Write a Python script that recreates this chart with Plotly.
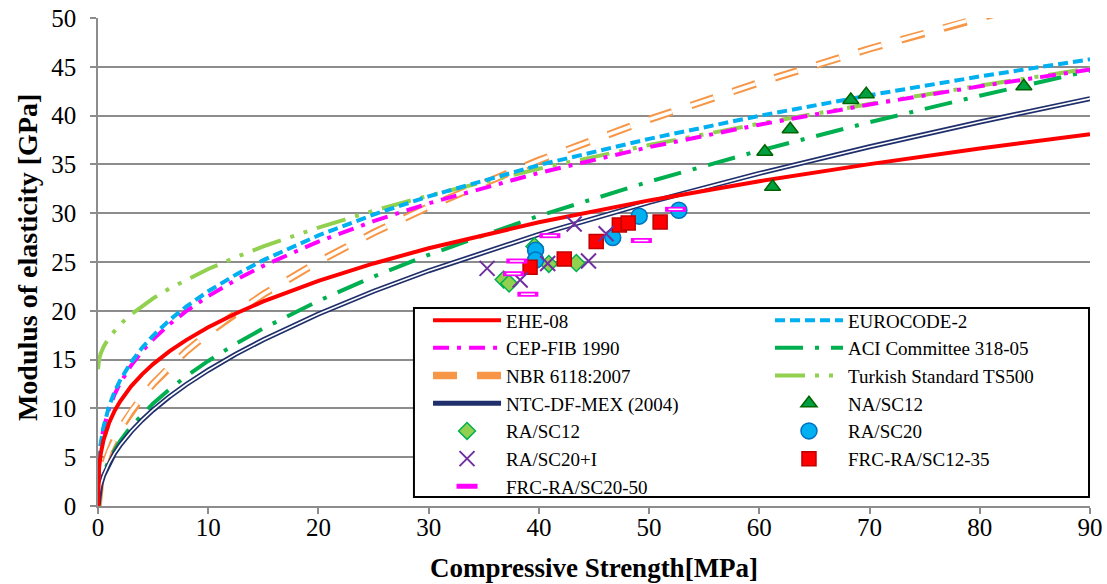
import plotly.graph_objects as go

# ---- data ----
fc = [0, 0.1, 0.25, 0.5, 1, 1.5, 2, 3, 4, 5, 6.5, 8, 10, 12.5, 15, 20, 25, 30, 40, 50, 60, 70, 80, 90]
ehe08 = [0, 3.95, 5.36, 6.75, 8.50, 9.73, 10.71, 12.26, 13.49, 14.54, 15.86, 17.00, 18.31, 19.73, 20.96,
         23.07, 24.85, 26.41, 29.07, 31.31, 33.28, 35.03, 36.63, 38.09]
eurocode2 = [0, 4.74, 6.43, 8.11, 10.21, 11.69, 12.87, 14.73, 16.21, 17.46, 19.06, 20.43, 22.00, 23.70, 25.19,
             27.72, 29.86, 31.73, 34.93, 37.62, 39.98, 42.09, 44.01, 45.77]
cepfib = [0, 4.63, 6.29, 7.92, 9.98, 11.42, 12.57, 14.39, 15.84, 17.07, 18.63, 19.96, 21.50, 23.16, 24.61,
          27.09, 29.18, 31.01, 34.13, 36.77, 39.07, 41.13, 43.00, 44.72]
aci318 = [0, 1.49, 2.35, 3.32, 4.70, 5.76, 6.65, 8.14, 9.40, 10.51, 11.98, 13.29, 14.86, 16.62, 18.20,
          21.02, 23.50, 25.74, 29.73, 33.23, 36.41, 39.32, 42.04, 44.59]
nbr6118 = [0, 1.77, 2.80, 3.96, 5.60, 6.86, 7.92, 9.70, 11.20, 12.52, 14.28, 15.84, 17.71, 19.80, 21.69,
           25.04, 28.00, 30.67, 35.42, 39.60, 43.38, 46.85, 50.09, 53.13]
ts500 = [14, 15.03, 15.63, 16.30, 17.25, 17.98, 18.60, 19.63, 20.50, 21.27, 22.29, 23.19, 24.28, 25.49, 26.59,
         28.53, 30.25, 31.80, 34.56, 36.98, 39.17, 41.19, 43.07, 44.83]
ntcmex = [0, 1.39, 2.20, 3.11, 4.40, 5.39, 6.22, 7.62, 8.80, 9.84, 11.22, 12.45, 13.91, 15.56, 17.04,
          19.68, 22.00, 24.10, 27.83, 31.11, 34.08, 36.81, 39.35, 41.74]

na_sc12_x = [60.5, 61.2, 62.8, 68.3, 69.7, 84.0]
na_sc12_y = [36.3, 32.7, 38.6, 41.6, 42.2, 43.0]
ra_sc12_x = [36.8, 37.3, 39.6, 40.9, 43.4]
ra_sc12_y = [23.2, 22.8, 26.6, 24.8, 24.9]
ra_sc20_x = [39.7, 39.7, 46.7, 49.1, 52.7]
ra_sc20_y = [26.2, 25.2, 27.5, 29.7, 30.3]
ra_sc20i_x = [35.3, 38.3, 40.8, 44.5, 43.2, 46.1]
ra_sc20i_y = [24.35, 23.15, 24.85, 25.1, 28.9, 27.9]
frc1235_x = [39.2, 42.3, 45.2, 47.3, 48.1, 51.0]
frc1235_y = [24.45, 25.3, 27.1, 28.8, 29.0, 29.1]
frc2050_x = [38.0, 37.7, 39.0, 41.0, 49.3, 52.4]
frc2050_y = [25.1, 23.8, 21.7, 27.7, 27.2, 30.4]

FONT = "Liberation Serif"
fig = go.Figure()

def line(name, y, color, width, dash, legend, rank, show=True):
    fig.add_trace(go.Scatter(x=fc, y=y, mode="lines", name=name, legend=legend, legendrank=rank,
                             showlegend=show, hoverinfo="skip",
                             line=dict(color=color, width=width, dash=dash)))

# curves
line("NBR 6118:2007", nbr6118, "#F79646", 7.5, "24px,20px", "legend", 3)
line("nbr_inner", nbr6118, "white", 3.5, "24px,20px", "legend", 99, show=False)
line("ACI Committee 318-05", aci318, "#00B050", 4, "28px,12px,4px,12px", "legend2", 2)
line("Turkish Standard TS500", ts500, "#92D050", 4, "30px,10px,4px,10px,4px,10px", "legend2", 3)
line("CEP-FIB 1990", cepfib, "#FF00FF", 4, "16px,8px,4px,8px", "legend", 2)
line("EUROCODE-2", eurocode2, "#00B0F0", 4, "10px,5px", "legend2", 1)
line("NTC-DF-MEX (2004)", ntcmex, "#1F2F6B", 5, "solid", "legend", 4)
line("ntc_inner", ntcmex, "white", 1.6, "solid", "legend", 99, show=False)
line("EHE-08", ehe08, "#FF0000", 4, "solid", "legend", 1)

def pts(name, x, y, symbol, size, fill, edge, lw, legend, rank, show=True):
    fig.add_trace(go.Scatter(x=x, y=y, mode="markers", name=name, legend=legend, legendrank=rank,
                             showlegend=show, hoverinfo="skip",
                             marker=dict(symbol=symbol, size=size, color=fill,
                                         line=dict(color=edge, width=lw))))

pts("RA/SC12", ra_sc12_x, ra_sc12_y, "diamond", 13, "#92D050", "#00B050", 1.5, "legend", 5)
pts("NA/SC12", na_sc12_x, na_sc12_y, "triangle-up", 14, "#00A040", "#006400", 1.5, "legend2", 4)
pts("RA/SC20", ra_sc20_x, ra_sc20_y, "circle", 16, "#00B0F0", "#0070C0", 1.5, "legend2", 5)
pts("FRC-RA/SC12-35", frc1235_x, frc1235_y, "square", 14, "#FF0000", "#C00000", 1.5, "legend2", 6)
pts("RA/SC20+I", ra_sc20i_x, ra_sc20i_y, "x-thin", 15, "#7030A0", "#7030A0", 2, "legend", 6)
pts("FRC-RA/SC20-50", frc2050_x, frc2050_y, "line-ew", 15, "#FF00FF", "#FF00FF", 5, "legend", 7)
pts("frc_inner", frc2050_x, frc2050_y, "line-ew", 10, "white", "white", 1.5, "legend", 99, show=False)

gray = "#8C8C8C"
legend_common = dict(bgcolor="rgba(0,0,0,0)", borderwidth=0, itemwidth=68,
                     font=dict(family=FONT, size=19, color="black"),
                     xanchor="left", yanchor="top", orientation="v", traceorder="normal")

fig.update_layout(
    width=1107, height=584,
    margin=dict(l=98, r=17, t=18, b=78, autoexpand=False),
    paper_bgcolor="white", plot_bgcolor="white",
    font=dict(family=FONT, color="black"),
    legend=dict(x=0.3327, y=0.4195, **legend_common),
    legend2=dict(x=0.6774, y=0.4195, **legend_common),
    shapes=[dict(type="rect", xref="paper", yref="paper", x0=0.3185, x1=0.999, y0=0.0184, y1=0.4057,
                 line=dict(color="black", width=2), fillcolor="white", layer="above")],
    annotations=[dict(text="<b>Modulus of elasticity [GPa]</b>", textangle=-90, showarrow=False,
                      xref="paper", yref="paper", x=-0.0716, y=0.51, xanchor="center", yanchor="middle",
                      font=dict(family=FONT, size=28, color="black"))],
    xaxis=dict(range=[0, 90], dtick=10, tick0=0, showgrid=False, zeroline=False,
               showline=True, linecolor=gray, linewidth=1.5,
               ticks="outside", ticklen=6, tickwidth=1.5, tickcolor=gray,
               ticklabelstandoff=-8, ticklabeloverflow="allow",
               tickfont=dict(family=FONT, size=25, color="black"),
               title=dict(text="<b>Compressive Strength[MPa]</b>", standoff=18,
                          font=dict(family=FONT, size=27, color="black"))),
    yaxis=dict(range=[0, 50], dtick=5, tick0=0, showgrid=True, gridcolor=gray, gridwidth=1.5,
               zeroline=False, showline=True, linecolor=gray, linewidth=1.5,
               ticks="outside", ticklen=6, tickwidth=1.5, tickcolor=gray,
               ticklabelstandoff=9, ticklabeloverflow="allow",
               tickfont=dict(family=FONT, size=25, color="black")),
)

fig.write_html("out.html", config={"displayModeBar": False},
               post_script="document.body.style.margin='0px';")
